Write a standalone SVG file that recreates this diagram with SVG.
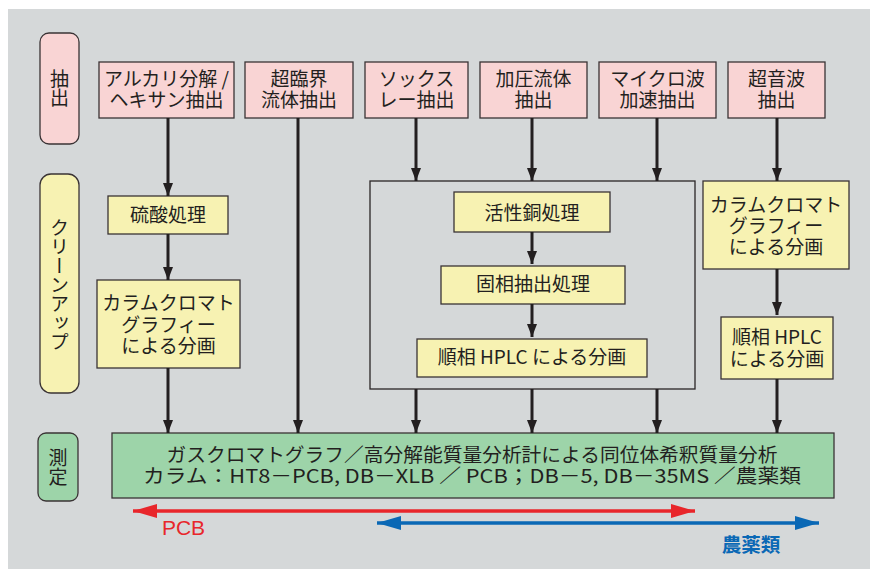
<svg xmlns="http://www.w3.org/2000/svg" width="870" height="569" viewBox="0 0 870 569">
<defs>
<style>
text{font-family:"Noto Sans CJK JP","Noto Sans CJK SC",sans-serif;font-size:19px;fill:#231f20;text-anchor:middle}
.pink{fill:#f9d4d4;stroke:#3a3335;stroke-width:1.3}
.yel{fill:#f7f2b2;stroke:#3a3335;stroke-width:1.3}
.grn{fill:#9dd4a9;stroke:#3a3335;stroke-width:1.3}
.frame{fill:none;stroke:#2a2526;stroke-width:1.3}
.ln{stroke:#231f20;stroke-width:3;fill:none}
.vt{writing-mode:vertical-rl}
</style>
<marker id="ah" markerUnits="userSpaceOnUse" viewBox="0 0 13 10" markerWidth="13" markerHeight="10" refX="13" refY="5" orient="auto"><path d="M0,0 L13,5 L0,10 z" fill="#231f20"/></marker>
<marker id="ahr" markerUnits="userSpaceOnUse" viewBox="0 0 24 14" markerWidth="24" markerHeight="14" refX="24" refY="7" orient="auto-start-reverse"><path d="M0,0 L24,7 L0,14 z" fill="#e8262b"/></marker>
<marker id="ahb" markerUnits="userSpaceOnUse" viewBox="0 0 24 14" markerWidth="24" markerHeight="14" refX="24" refY="7" orient="auto-start-reverse"><path d="M0,0 L24,7 L0,14 z" fill="#0a68b5"/></marker>
</defs>
<rect x="8" y="9" width="862" height="560" fill="#d5d8d9"/>

<g id="label-extract"><rect x="40" y="33" width="39" height="111" rx="9" class="pink"/><text class="vt" x="59.5" y="88.5">抽出</text></g>
<g id="label-cleanup"><rect x="40" y="174" width="39" height="219" rx="11" class="yel"/><text class="vt" x="59.5" y="285">クリーンアップ</text></g>
<g id="label-measure"><rect x="38" y="433" width="40" height="68" rx="8" class="grn"/><text class="vt" x="58" y="467">測定</text></g>

<g id="ex1"><rect x="99" y="62" width="135" height="56" class="pink"/><text x="166.5" y="86">アルカリ分解 /<tspan x="166.5" dy="21">ヘキサン抽出</tspan></text></g>
<g id="ex2"><rect x="245" y="62" width="108" height="56" class="pink"/><text x="299" y="86">超臨界<tspan x="299" dy="21">流体抽出</tspan></text></g>
<g id="ex3"><rect x="365" y="62" width="103" height="56" class="pink"/><text x="416.5" y="86">ソックス<tspan x="416.5" dy="21">レー抽出</tspan></text></g>
<g id="ex4"><rect x="480" y="62" width="107" height="56" class="pink"/><text x="533.5" y="86">加圧流体<tspan x="533.5" dy="21">抽出</tspan></text></g>
<g id="ex5"><rect x="599" y="62" width="117" height="56" class="pink"/><text x="657.5" y="86">マイクロ波<tspan x="657.5" dy="21">加速抽出</tspan></text></g>
<g id="ex6"><rect x="728" y="62" width="97" height="56" class="pink"/><text x="776.5" y="86">超音波<tspan x="776.5" dy="21">抽出</tspan></text></g>

<g id="sulfuric"><rect x="108" y="196" width="120" height="38" class="yel"/><text x="168" y="222">硫酸処理</text></g>
<g id="colL"><rect x="97" y="280" width="143" height="88" class="yel"/><text x="168.5" y="310">カラムクロマト<tspan x="168.5" dy="21.5">グラフィー</tspan><tspan x="168.5" dy="21.5">による分画</tspan></text></g>

<g id="group-box"><rect x="370" y="181" width="325" height="208" class="frame"/></g>
<g id="copper"><rect x="454" y="192" width="156" height="40" class="yel"/><text x="532" y="219.5">活性銅処理</text></g>
<g id="spe"><rect x="441" y="266" width="184" height="38" class="yel"/><text x="533" y="291">固相抽出処理</text></g>
<g id="hplcM"><rect x="417" y="339" width="230" height="38" class="yel"/><text x="532" y="364">順相 HPLC による分画</text></g>

<g id="colR"><rect x="703" y="181" width="146" height="88" class="yel"/><text x="776" y="211.5">カラムクロマト<tspan x="776" dy="21.5">グラフィー</tspan><tspan x="776" dy="21">による分画</tspan></text></g>
<g id="hplcR"><rect x="721" y="317" width="112" height="62" class="yel"/><text x="777" y="344">順相 HPLC<tspan x="777" dy="22">による分画</tspan></text></g>

<g id="measure"><rect x="112" y="433" width="722" height="65" class="grn"/>
<text x="472" y="462"><tspan textLength="611" lengthAdjust="spacingAndGlyphs">ガスクロマトグラフ／高分解能質量分析計による同位体希釈質量分析</tspan><tspan x="472" dy="20.5" textLength="658" lengthAdjust="spacingAndGlyphs">カラム：HT8－PCB, DB－XLB ／ PCB；DB－5, DB－35MS ／農薬類</tspan></text></g>

<g id="connectors">
<line x1="168" y1="118" x2="168" y2="196" class="ln" marker-end="url(#ah)"/>
<line x1="168" y1="234" x2="168" y2="280" class="ln" marker-end="url(#ah)"/>
<line x1="168" y1="368" x2="168" y2="433" class="ln" marker-end="url(#ah)"/>
<line x1="298" y1="118" x2="298" y2="433" class="ln" marker-end="url(#ah)"/>
<line x1="416" y1="118" x2="416" y2="181" class="ln" marker-end="url(#ah)"/>
<line x1="532" y1="118" x2="532" y2="181" class="ln" marker-end="url(#ah)"/>
<line x1="657" y1="118" x2="657" y2="181" class="ln" marker-end="url(#ah)"/>
<line x1="777" y1="118" x2="777" y2="181" class="ln" marker-end="url(#ah)"/>
<line x1="532" y1="232" x2="532" y2="264" class="ln" marker-end="url(#ah)"/>
<line x1="532" y1="304" x2="532" y2="337" class="ln" marker-end="url(#ah)"/>
<line x1="777" y1="269" x2="777" y2="315" class="ln" marker-end="url(#ah)"/>
<line x1="416" y1="389" x2="416" y2="433" class="ln" marker-end="url(#ah)"/>
<line x1="532" y1="389" x2="532" y2="433" class="ln" marker-end="url(#ah)"/>
<line x1="657" y1="389" x2="657" y2="433" class="ln" marker-end="url(#ah)"/>
<line x1="777" y1="379" x2="777" y2="433" class="ln" marker-end="url(#ah)"/>
<line x1="133" y1="511" x2="695" y2="511" stroke="#e8262b" stroke-width="3.5" marker-start="url(#ahr)" marker-end="url(#ahr)"/>
<line x1="377" y1="523" x2="819" y2="523" stroke="#0a68b5" stroke-width="3.5" marker-start="url(#ahb)" marker-end="url(#ahb)"/>
</g>
<text x="183.5" y="535" style="fill:#e8262b;font-family:'Liberation Sans',sans-serif;font-size:21px">PCB</text>
<text x="751" y="551.5" style="fill:#0a68b5;font-weight:bold;font-size:19.5px">農薬類</text>
</svg>
